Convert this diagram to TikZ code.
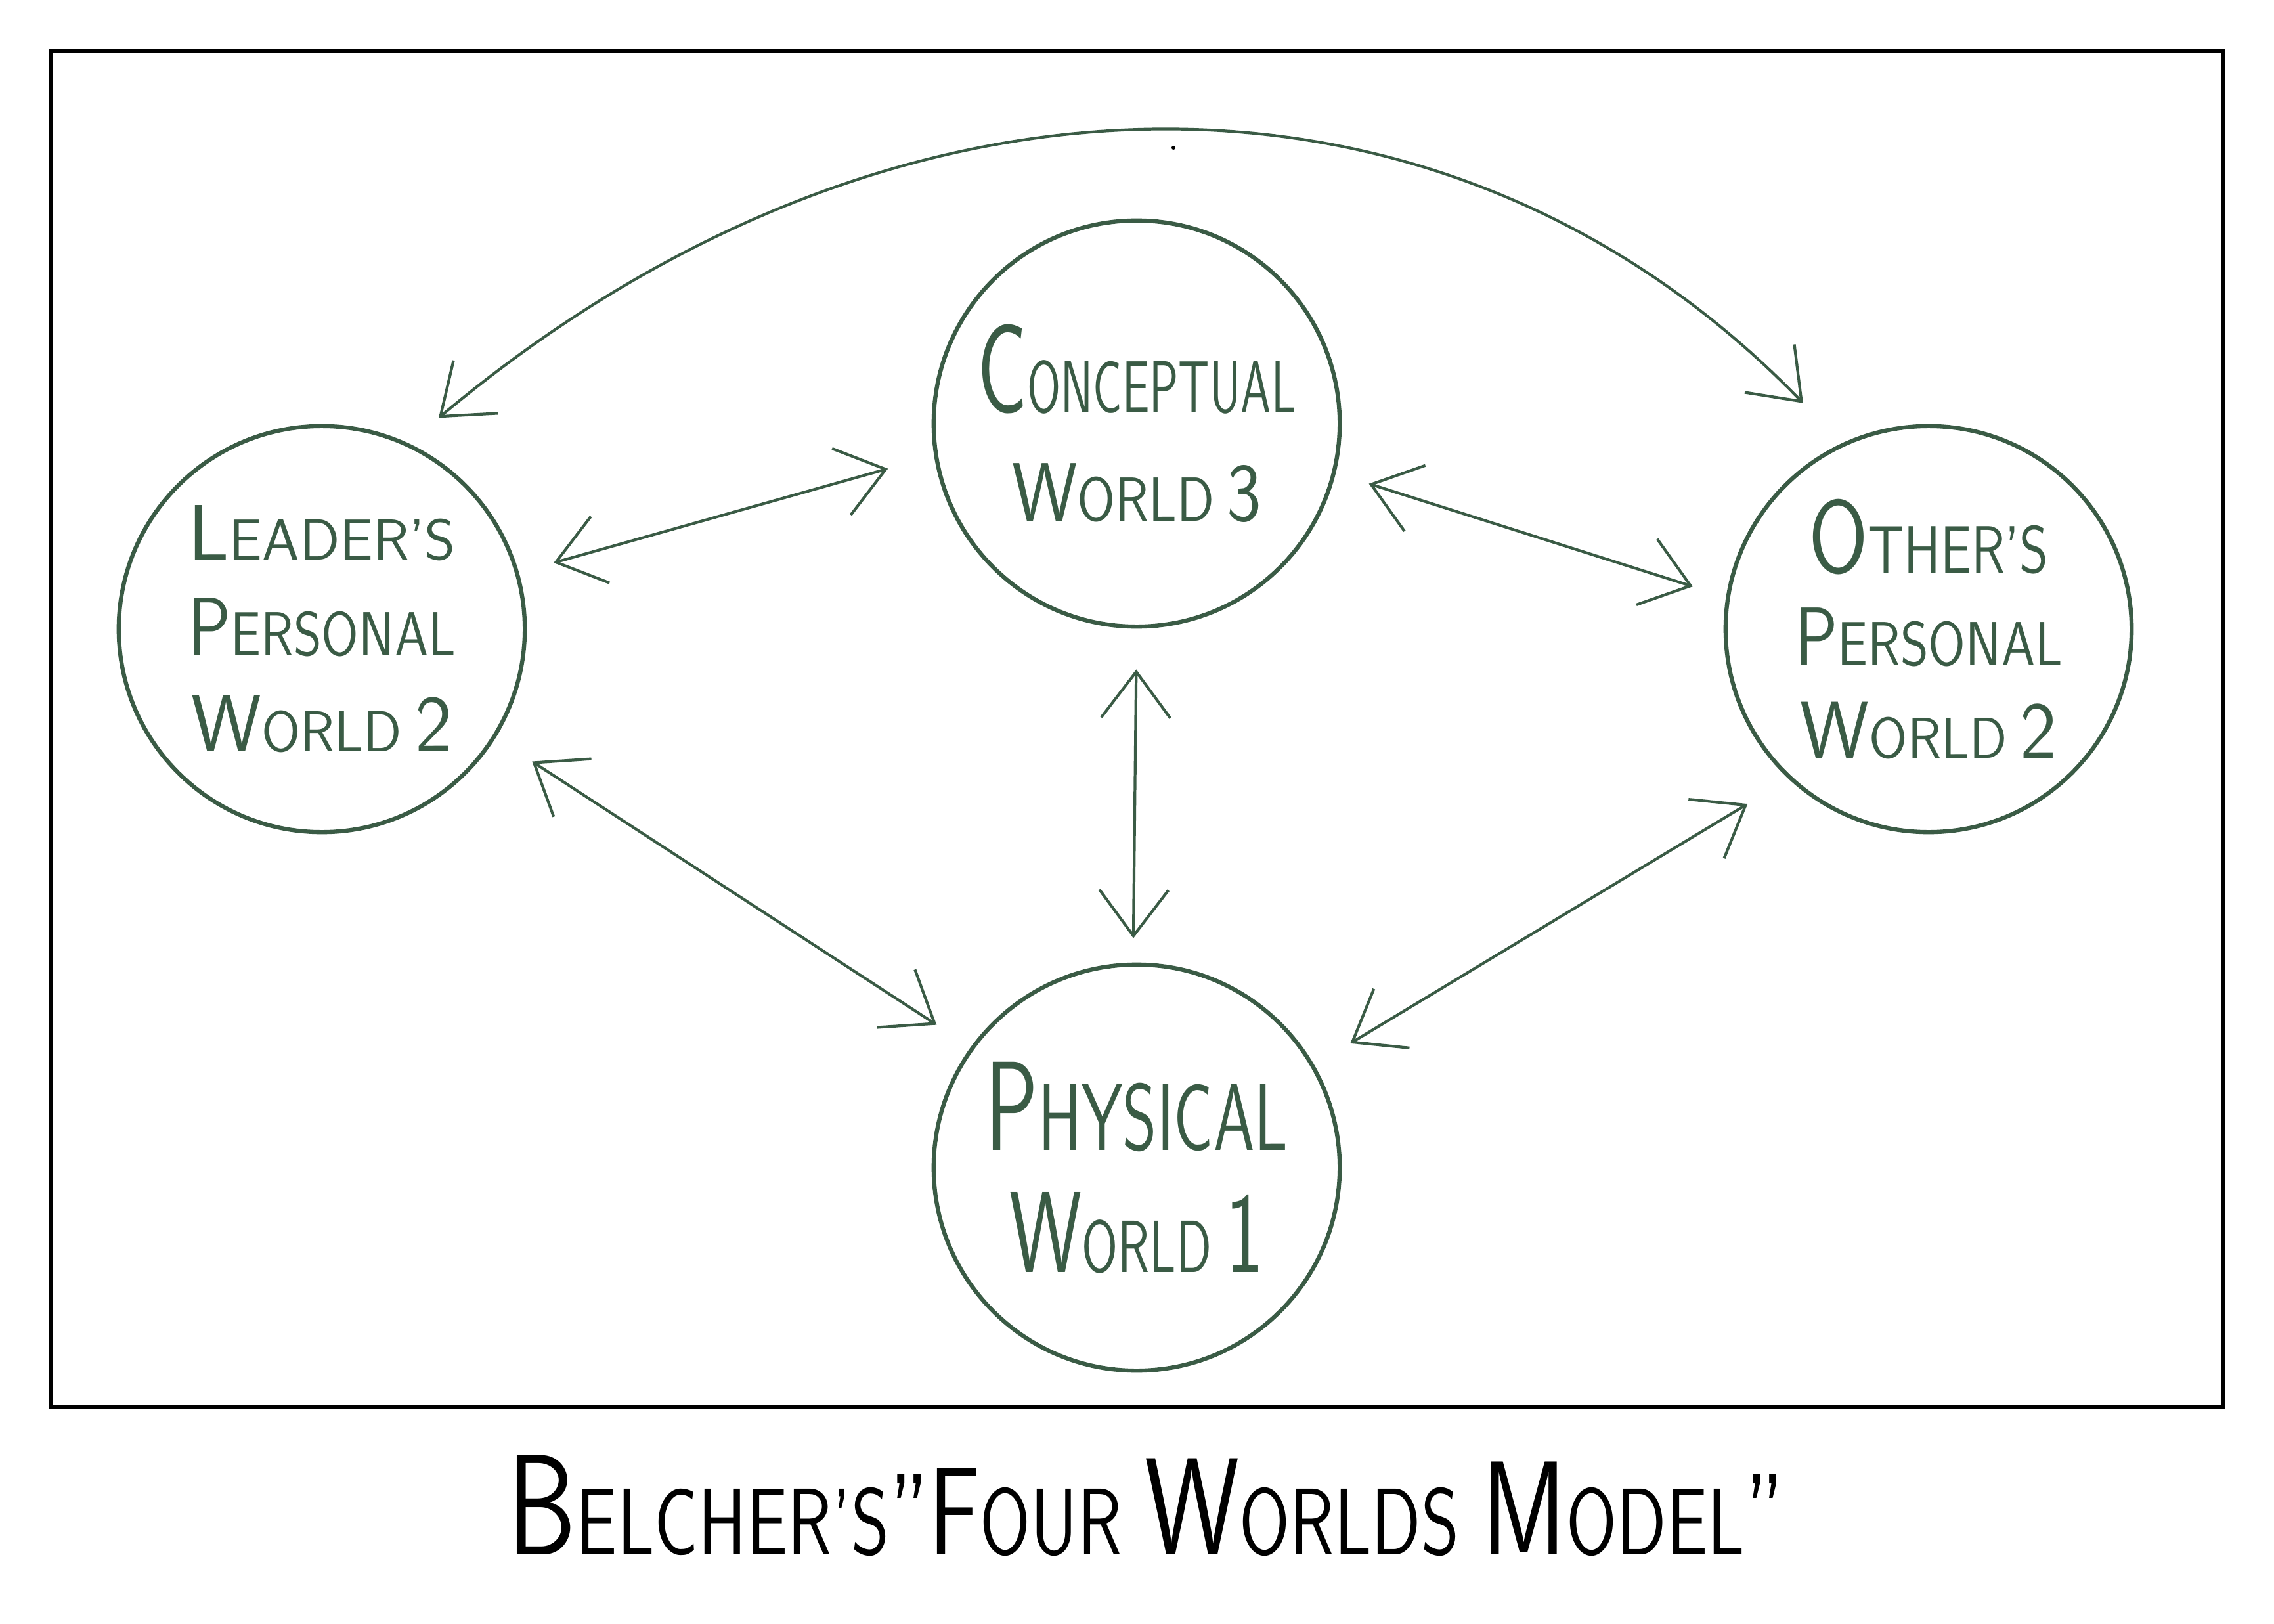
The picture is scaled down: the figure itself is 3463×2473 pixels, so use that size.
\documentclass[tikz,border=0pt]{standalone}
\usepackage{fontspec}
\usepackage{graphicx}
\usetikzlibrary{arrows.meta}
\definecolor{ink}{RGB}{58,91,69}
\newcommand\bsz[2]{{\fontsize{#1}{#1}\selectfont #2}}
\newcommand\fitw[2]{\resizebox{#1}{\height}{#2}}
\begin{document}
\begin{tikzpicture}[x=0.01cm,y=-0.01cm,
  world/.style={circle, draw=ink, line width=1.8pt, minimum size=6.18cm, inner sep=0pt, align=center, text=ink},
  link/.style={draw=ink, line width=1.2pt, line cap=round, line join=round,
    {Straight Barb[length=0.7cm,width=1.05cm]}-{Straight Barb[length=0.7cm,width=1.05cm]}},
  frame/.style={draw=black, line width=1.9pt},
]
\useasboundingbox (0,0) rectangle (3463,2473);
\draw[frame] (77,77) rectangle (3386,2142);

\node[world, font=\sffamily\fontsize{30pt}{41.5pt}\selectfont] (L) at (490,958)
  {\fitw{116pt}{\bsz{34pt}{L}\bsz{25pt}{EADER'S}}\\
   \fitw{116pt}{\bsz{36pt}{P}\bsz{27pt}{ERSONAL}}\\
   \fitw{113pt}{\bsz{35pt}{W}\bsz{25pt}{ORLD}\bsz{35pt}{\,2}}};

\node[world, font=\sffamily\fontsize{30pt}{47pt}\selectfont] (C) at (1731,645)
  {\fitw{138pt}{\bsz{55pt}{C}\bsz{32pt}{ONCEPTUAL}}\\
   \fitw{108pt}{\bsz{36pt}{W}\bsz{27pt}{ORLD}\bsz{36pt}{\,3}}};

\node[world, font=\sffamily\fontsize{30pt}{40pt}\selectfont] (O) at (2937,958)
  {\fitw{104pt}{\bsz{45pt}{O}\bsz{29pt}{THER'S}}\\
   \fitw{116pt}{\bsz{36pt}{P}\bsz{27pt}{ERSONAL}}\\
   \fitw{111pt}{\bsz{35pt}{W}\bsz{25pt}{ORLD}\bsz{35pt}{\,2}}};

\node[world, font=\sffamily\fontsize{30pt}{53pt}\selectfont] (P) at (1731,1778)
  {\fitw{131pt}{\bsz{55pt}{P}\bsz{41pt}{HYSICAL}}\\
   \fitw{110pt}{\bsz{50pt}{W}\bsz{32pt}{ORLD}\bsz{50pt}{\,1}}};

\node[anchor=base, font=\sffamily] (title) at (1745,2367)
  {\fitw{553pt}{\bsz{62pt}{B}\bsz{41pt}{ELCHER'S}\bsz{50pt}{"}\bsz{54pt}{F}\bsz{41pt}{OUR}\bsz{41pt}{\ }\bsz{60pt}{W}\bsz{41pt}{ORLDS}\bsz{41pt}{\ }\bsz{58pt}{M}\bsz{41pt}{ODEL}\bsz{50pt}{"}}};

\draw[link, shorten <=0.55cm, shorten >=0.73cm] (L.16) -- (C.189);
\draw[link, shorten <=0.53cm, shorten >=0.53cm] (C.346) -- (O.171);
\draw[link, shorten <=0.62cm, shorten >=0.37cm] (C.270) -- (P.91);
\draw[link, shorten <=0.66cm, shorten >=0.62cm] (L.328) -- (P.144);
\draw[link, shorten <=0.64cm, shorten >=0.73cm] (P.30) -- (O.227);
\draw[link, shorten <=0.6cm, shorten >=0.85cm] (L.65) .. controls +(740,-620) and +(-600,-620) .. (O.115);

\fill[black] (1787,225) circle (3);
\end{tikzpicture}
\end{document}
